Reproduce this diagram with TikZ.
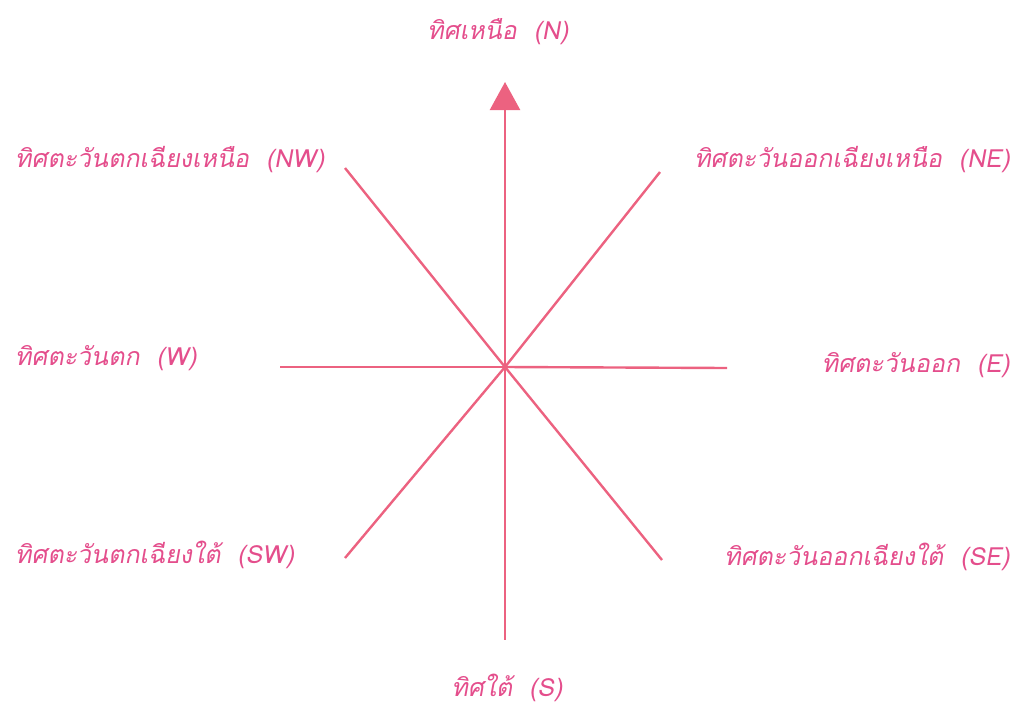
\documentclass[tikz,border=0pt]{standalone}
\usepackage{fontspec}
\newfontfamily\thaifont[Script=Thai,FakeSlant=0.18]{Loma}
\usetikzlibrary{arrows.meta}
\definecolor{pinktext}{RGB}{228,78,140}
\definecolor{pinkline}{RGB}{236,98,128}
\begin{document}
\begin{tikzpicture}[x=1pt,y=-1pt,
  ray/.style={draw=pinkline,line width=2.4pt},
  lbl/.style={text=pinktext,inner sep=0pt,font=\thaifont\fontsize{25}{28}\selectfont}]
\useasboundingbox (0,0) rectangle (1022,707);
\coordinate (O) at (505,367);
\coordinate (pN) at (505,82);
\coordinate (pS) at (505,640);
\coordinate (pW) at (280,367);
\coordinate (pE) at (727,368);
\coordinate (pNW) at (345,168);
\coordinate (pNE) at (660,172);
\coordinate (pSW) at (345,558);
\coordinate (pSE) at (662,560);
\draw[ray,-{Triangle[width=30pt,length=28pt]}] (O) -- (pN);
\draw[ray] (O) -- (pS);
\draw[ray] (O) -- (pW);
\draw[ray] (O) -- (pE);
\draw[ray] (O) -- (pNW);
\draw[ray] (O) -- (pNE);
\draw[ray] (O) -- (pSW);
\draw[ray] (O) -- (pSE);
\node[lbl] (lN) at (498,32) {ทิศเหนือ\ \ (N)};
\node[lbl,anchor=west] (lNW) at (15,160) {ทิศตะวันตกเฉียงเหนือ\ \ (NW)};
\node[lbl,anchor=east] (lNE) at (1010,160) {ทิศตะวันออกเฉียงเหนือ\ \ (NE)};
\node[lbl,anchor=west] (lW) at (15,358) {ทิศตะวันตก\ \ (W)};
\node[lbl,anchor=east] (lE) at (1010,365) {ทิศตะวันออก\ \ (E)};
\node[lbl,anchor=west] (lSW) at (15,555) {ทิศตะวันตกเฉียงใต้\ \ (SW)};
\node[lbl,anchor=east] (lSE) at (1010,557) {ทิศตะวันออกเฉียงใต้\ \ (SE)};
\node[lbl] (lS) at (507,688) {ทิศใต้\ \ (S)};
\end{tikzpicture}
\end{document}
